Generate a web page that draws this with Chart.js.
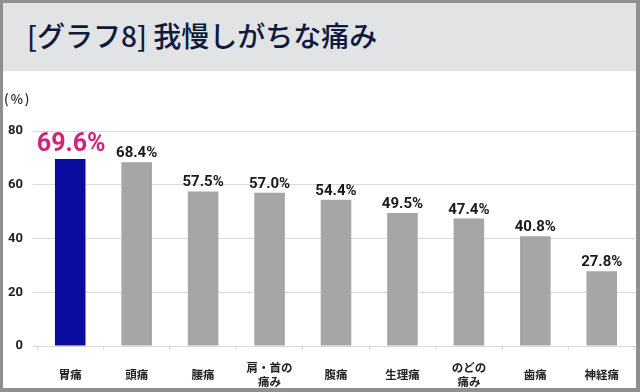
<!DOCTYPE html>
<html lang="ja">
<head>
<meta charset="utf-8">
<script src="https://cdn.jsdelivr.net/npm/chart.js@4"></script>
<style>
  html, body { margin: 0; padding: 0; background: #fff; }
  .frame { position: relative; width: 640px; height: 392px; overflow: hidden; background: #fff; }
  .frame canvas { position: absolute; left: 0; top: 0; }
  .header {
    position: absolute; left: 0; top: 0; width: 640px; height: 71px;
    background: #e2e3e5; z-index: 2;
  }
  .header h1 {
    margin: 0; position: absolute; left: 27px; top: 21px;
    font: 500 28px "Noto Sans CJK JP", sans-serif; color: #0f1a3c;
    line-height: 1; white-space: nowrap;
  }
  .unit {
    position: absolute; left: 4px; top: 89px; z-index: 2;
    font: 500 13px "Noto Sans CJK JP", sans-serif; color: #222; letter-spacing: 2px;
  }
  .border {
    position: absolute; left: 0; top: 0; width: 640px; height: 392px;
    box-sizing: border-box; border: 3px solid #8f8f8f; border-bottom-width: 4px; border-right-width: 4px;
    z-index: 3; pointer-events: none;
  }
</style>
</head>
<body>
<div class="frame">
  <canvas id="painChart" width="640" height="392"></canvas>
  <div class="header"><h1>[グラフ8] 我慢しがちな痛み</h1></div>
  <div class="unit">(%)</div>
  <div class="border"></div>
</div>
<script>
// ===== data =====
const categories = ['胃痛', '頭痛', '腰痛', ['肩・首の', '痛み'], '腹痛', '生理痛', ['のどの', '痛み'], '歯痛', '神経痛'];
const values = [69.6, 68.4, 57.5, 57.0, 54.4, 49.5, 47.4, 40.8, 27.8];
const yTicks = [0, 20, 40, 60, 80];
const highlightIndex = 0;

const BAR_GRAY = '#a6a6a6';
const BAR_BLUE = '#0a0c9f';
const PINK = '#d4217b';
const GRID = '#d9d9d9';
const NUM_FONT = 'Roboto, "Liberation Sans", sans-serif';

// value labels on top of the bars
const valueLabels = {
  id: 'valueLabels',
  afterDatasetsDraw(chart) {
    const ctx = chart.ctx;
    const meta = chart.getDatasetMeta(0);
    ctx.save();
    ctx.textAlign = 'center';
    ctx.textBaseline = 'alphabetic';
    meta.data.forEach((bar, i) => {
      const hi = i === highlightIndex;
      ctx.font = hi ? 'bold 25px ' + NUM_FONT : 'bold 15px ' + NUM_FONT;
      ctx.fillStyle = hi ? PINK : '#1a1a1a';
      ctx.fillText(values[i].toFixed(1) + '%', bar.x + (hi ? 1 : 0), bar.y - (hi ? 8 : 5));
    });
    ctx.restore();
  }
};

function initChart() {
  const ctx = document.getElementById('painChart').getContext('2d');
  new Chart(ctx, {
    type: 'bar',
    data: {
      labels: categories,
      datasets: [{
        data: values,
        backgroundColor: values.map((v, i) => i === highlightIndex ? BAR_BLUE : BAR_GRAY),
        borderWidth: 0,
        categoryPercentage: 1,
        barPercentage: 0.46
      }]
    },
    options: {
      responsive: false,
      animation: false,
      layout: { padding: { top: 131, right: 5, left: 0, bottom: 0 } },
      plugins: { legend: { display: false }, tooltip: { enabled: false } },
      scales: {
        x: {
          afterFit: s => { s.height = 46; },
          grid: { offset: true, drawOnChartArea: false, drawTicks: true, tickLength: 4, color: GRID },
          border: { display: true, color: GRID },
          ticks: {
            crossAlign: 'center',
            padding: 18,
            color: '#222',
            font: { family: '"Noto Sans CJK JP", sans-serif', size: 11.5, weight: 'bold', lineHeight: 1.15 }
          }
        },
        y: {
          min: 0,
          max: 80,
          afterFit: s => { s.width = 37; },
          afterBuildTicks: s => { s.ticks = yTicks.map(v => ({ value: v })); },
          grid: { color: GRID, tickLength: 4 },
          border: { display: false },
          ticks: {
            padding: 10,
            color: '#222',
            font: { family: NUM_FONT, size: 13, weight: 'bold' }
          }
        }
      }
    },
    plugins: [valueLabels]
  });
}

document.addEventListener('DOMContentLoaded', initChart);
</script>
</body>
</html>
